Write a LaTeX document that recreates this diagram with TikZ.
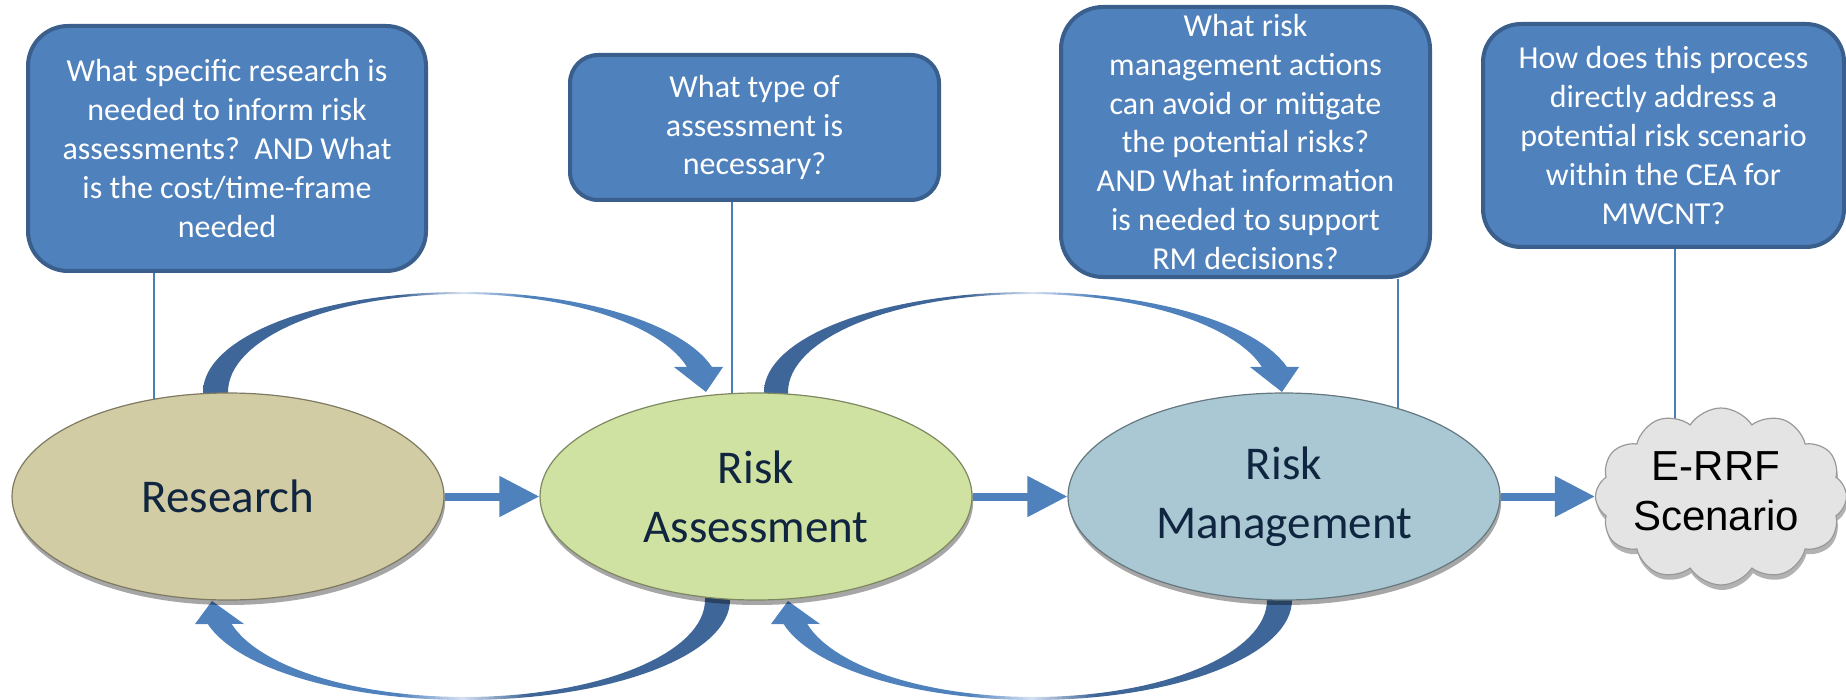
\documentclass[tikz,border=0pt]{standalone}
\usepackage{fontspec}
\setmainfont{Carlito}
\newfontfamily\arialfont{Liberation Sans}
\usetikzlibrary{shapes.geometric,shapes.symbols,arrows.meta,shadows,backgrounds}

\definecolor{boxfill}{HTML}{4F81BD}
\definecolor{boxline}{HTML}{3A5F8C}
\definecolor{linkblue}{HTML}{4A7EBB}
\definecolor{resfill}{HTML}{D2CCA4}
\definecolor{rafill}{HTML}{D0E2A1}
\definecolor{rmfill}{HTML}{A9C8D3}
\definecolor{cloudfill}{HTML}{E4E4E4}
\definecolor{navy}{HTML}{10253F}
\definecolor{arcdark}{HTML}{3F6698}
\definecolor{arclight}{HTML}{4F81BD}
\definecolor{arcpale}{HTML}{D6E2F2}

\pgfdeclarehorizontalshading{arcLR}{100bp}{color(0bp)=(arcdark); color(44bp)=(arcdark); color(50bp)=(arcpale); color(56bp)=(arclight); color(100bp)=(arclight)}
\pgfdeclarehorizontalshading{arcRL}{100bp}{color(0bp)=(arclight); color(44bp)=(arclight); color(50bp)=(arcpale); color(56bp)=(arcdark); color(100bp)=(arcdark)}

\tikzset{
  qbox/.style={rectangle, rounded corners=#1, fill=boxfill, draw=boxline, line width=2pt,
    text=white, align=center, font=\fontsize{16}{19.4}\selectfont, inner sep=0pt},
  stage/.style={ellipse, minimum width=216pt, minimum height=103.5pt, inner sep=0pt,
    text=navy, align=center, font=\fontsize{23.5}{29.5}\selectfont,
    fill=#1, draw=#1!60!black, line width=0.6pt,
    drop shadow={shadow xshift=0.6pt, shadow yshift=-2.5pt, opacity=0.35, fill=black}},
  link/.style={draw=linkblue, line width=1pt},
  flow/.style={draw=arclight, line width=4pt, -{Triangle[length=20pt,width=19.5pt]}},
  cloudtext/.style={font=\arialfont\fontsize{21}{25}\selectfont, align=center, text=black, inner sep=0pt}
}

\begin{document}
\begin{tikzpicture}[x=0.5pt,y=-0.5pt]
\useasboundingbox (0,0) rectangle (1846,700);

% question boxes
\node[qbox=20pt, minimum width=199pt, minimum height=122.5pt] (b1) at (227,148.5)
  {What specific research is\\needed to inform risk\\assessments?\ \ AND What\\is the cost/time-frame\\needed};
\node[qbox=14pt, minimum width=184.5pt, minimum height=72.5pt] (b2) at (754.5,127.5)
  {What type of\\assessment is\\necessary?};
\node[qbox=21pt, minimum width=184.5pt, minimum height=135pt] (b3) at (1245.5,142)
  {What risk\\management actions\\can avoid or mitigate\\the potential risks?\\AND What information\\is needed to support\\RM decisions?};
\node[qbox=19pt, minimum width=180.5pt, minimum height=111.5pt] (b4) at (1663.5,135.5)
  {How does this process\\directly address a\\potential risk scenario\\within the CEA for\\MWCNT?};

% stages
\node[stage=resfill] (research) at (228,496.5) {Research};
\node[stage=rafill] (ra) at (756,496.5) {Risk\\Assessment};
\node[stage=rmfill] (rm) at (1284,496.5) {Risk\\Management};
\node[cloud, cloud puffs=12, cloud puff arc=115, cloud ignores aspect, minimum width=125.5pt, minimum height=88.5pt,
      inner sep=0pt, fill=cloudfill, draw=black!40, line width=0.6pt,
      drop shadow={shadow xshift=0.6pt, shadow yshift=-2.5pt, opacity=0.3, fill=black}] (cl) at (1721,496.5) {};
\node[cloudtext] (clt) at (1716,491) {E-RRF\\Scenario};
\coordinate (c4) at (1675,432);

\begin{scope}[on background layer]
  % connector lines from question boxes
  \draw[link] (research.127) -- (research.127 |- b1.south);
  \draw[link] (ra.103.7) -- (ra.103.7 |- b2.south);
  \draw[link] (rm.38) -- (rm.38 |- b3.south);
  \draw[link] (c4) -- (c4 |- b4.south);

  % top curved arrow: Research -> Risk Assessment
  \shade[shading=arcLR] (203,402) -- (203,392)
    -- plot[domain=180:345.5, samples=60, variable=\t] ({461.6+258.6*cos(\t)},{392+100*sin(\t)})
    -- (723,367) -- (706,392) -- (674,367)
    -- plot[domain=345.2:180, samples=60, variable=\t] ({461.4+233.4*cos(\t)},{392+98*sin(\t)})
    -- (228,402) -- cycle;
  % top curved arrow: Risk Assessment -> Risk Management
  \shade[shading=arcLR] (764,402) -- (764,392)
    -- plot[domain=180:345.5, samples=60, variable=\t] ({1029.7+265.7*cos(\t)},{392+100*sin(\t)})
    -- (1299,367) -- (1282,392) -- (1250,367)
    -- plot[domain=345.2:180, samples=60, variable=\t] ({1029+241*cos(\t)},{392+98*sin(\t)})
    -- (788,402) -- cycle;
  % bottom curved arrow: Risk Assessment -> Research
  \shade[shading=arcRL] (730,590) -- (730,600)
    -- plot[domain=0:166.1, samples=60, variable=\t] ({465+265*cos(\t)},{600+100*sin(\t)})
    -- (195,624) -- (212,601) -- (244,624)
    -- plot[domain=165.7:0, samples=60, variable=\t] ({464.6+240.4*cos(\t)},{600+97*sin(\t)})
    -- (705,590) -- cycle;
  % bottom curved arrow: Risk Management -> Risk Assessment
  \shade[shading=arcRL] (1292,590) -- (1292,600)
    -- plot[domain=0:166.1, samples=60, variable=\t] ({1034+258*cos(\t)},{600+100*sin(\t)})
    -- (771,624) -- (788,601) -- (820,624)
    -- plot[domain=165.7:0, samples=60, variable=\t] ({1033.5+233.5*cos(\t)},{600+97*sin(\t)})
    -- (1267,590) -- cycle;
\end{scope}

% straight flow arrows
\draw[flow] (research.east) -- (ra.west);
\draw[flow] (ra.east) -- (rm.west);
\draw[flow] (rm.east) -- (cl.west);
\end{tikzpicture}
\end{document}
